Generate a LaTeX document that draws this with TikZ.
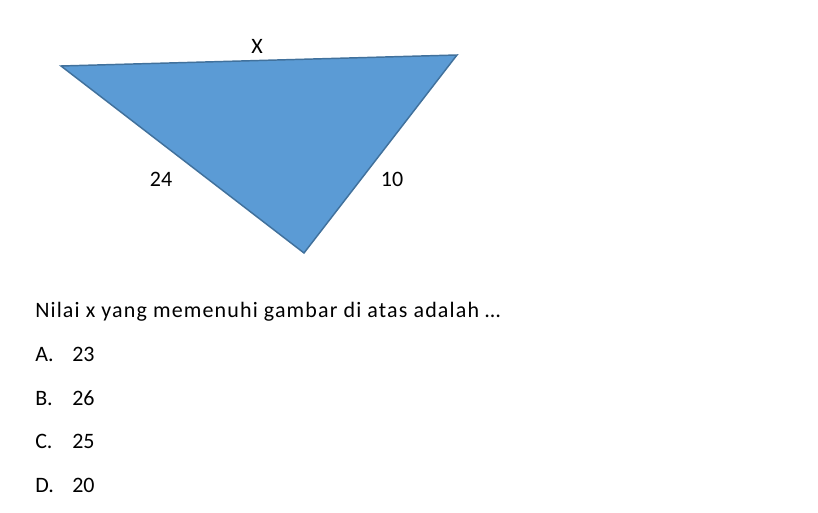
\documentclass[tikz,border=0pt]{standalone}
\usepackage{fontspec}
\setmainfont{Carlito}
\newfontfamily\qfont[LetterSpace=5.2]{Carlito}
\definecolor{trifill}{HTML}{5B9BD5}
\definecolor{triedge}{HTML}{41719C}
\begin{document}
\begin{tikzpicture}[x=0.75pt,y=-0.75pt,
  lbl/.style={font=\fontsize{16.5pt}{20pt}\selectfont, inner sep=0pt},
  txt/.style={lbl, anchor=base west}]
\useasboundingbox (0,0) rectangle (818,513);
\coordinate (L) at (61,66);
\coordinate (R) at (457,55);
\coordinate (B) at (304,253);
\filldraw[fill=trifill, draw=triedge, line width=1.1pt, line join=miter] (L) -- (R) -- (B) -- cycle;
\node[lbl] (lx) at (257,46) {X};
\node[lbl] (l24) at (161,179) {24};
\node[lbl] (l10) at (392,179) {10};
\node[txt, font=\qfont\fontsize{16.5pt}{20pt}\selectfont] (q) at (35,318) {Nilai x yang memenuhi gambar di atas adalah …};
\node[txt] (a) at (35,362) {A.};
\node[txt] (av) at (72,362) {23};
\node[txt] (b) at (35,405.5) {B.};
\node[txt] (bv) at (72,405.5) {26};
\node[txt] (c) at (35,449) {C.};
\node[txt] (cv) at (72,449) {25};
\node[txt] (d) at (35,492.5) {D.};
\node[txt] (dv) at (72,492.5) {20};
\end{tikzpicture}
\end{document}
